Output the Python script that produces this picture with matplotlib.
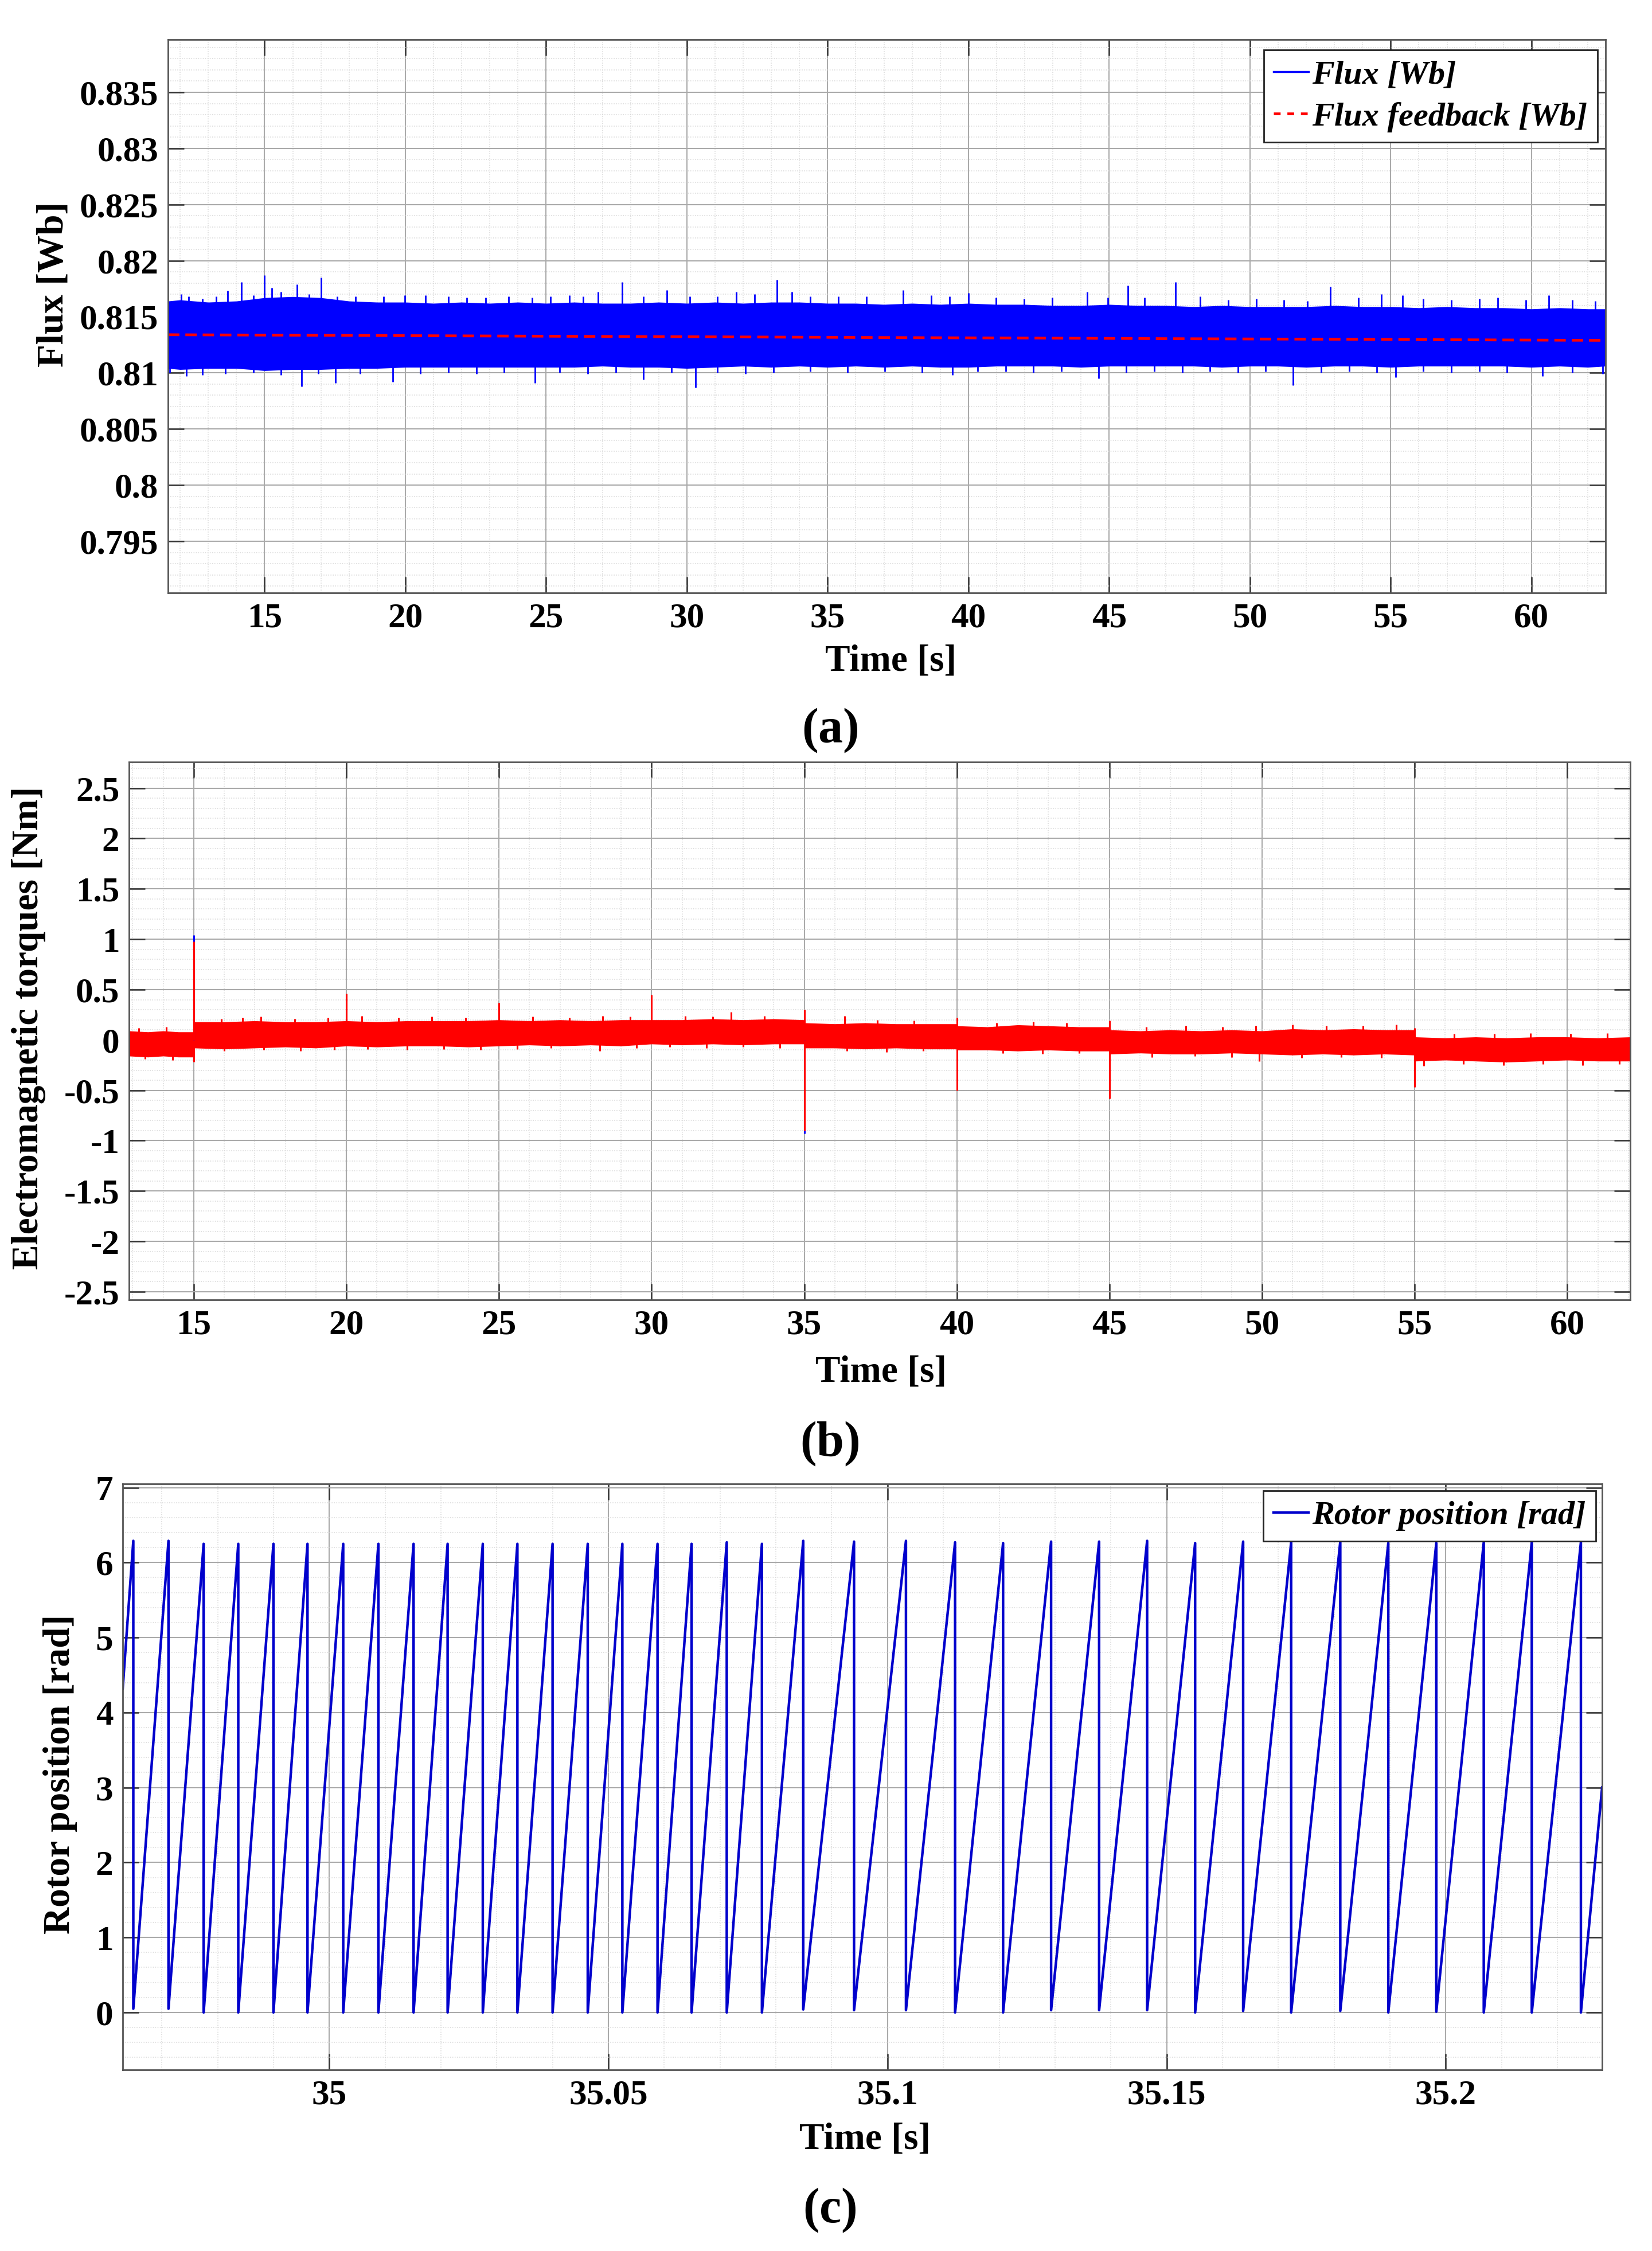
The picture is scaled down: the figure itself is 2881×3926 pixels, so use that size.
import numpy as np
import matplotlib.pyplot as plt
from matplotlib.ticker import MultipleLocator, AutoMinorLocator, FuncFormatter
from matplotlib.lines import Line2D

plt.rcParams['font.family'] = ['Liberation Serif', 'DejaVu Serif']
plt.rcParams['font.weight'] = 'bold'
plt.rcParams['axes.labelweight'] = 'bold'
plt.rcParams['mathtext.fontset'] = 'custom'
plt.rcParams['mathtext.rm'] = 'Liberation Serif'
plt.rcParams['mathtext.bf'] = 'Liberation Serif:bold'

# ---------------- (a) flux ----------------
# dense part of the noisy band (upper / lower edge), read every second
flux_t = [11.57, 12, 13, 14, 15, 16, 17, 18, 19, 20, 21, 22, 23, 24, 25, 26, 27, 28, 29, 30,
          31, 32, 33, 34, 35, 36, 37, 38, 39, 40, 41, 42, 43, 44, 45, 46, 47, 48, 49, 50,
          51, 52, 53, 54, 55, 56, 57, 58, 59, 60, 61, 62, 62.63]
flux_hi = [0.8164, 0.8165, 0.8163, 0.8164, 0.8167, 0.8168, 0.8167, 0.8164, 0.8163, 0.8163,
           0.8162, 0.8163, 0.8162, 0.8163, 0.8162, 0.8163, 0.8162, 0.8162, 0.8163, 0.8162,
           0.8163, 0.8162, 0.8163, 0.8163, 0.8162, 0.8162, 0.8161, 0.8162, 0.8161, 0.8162,
           0.8161, 0.8161, 0.8160, 0.8160, 0.8161, 0.8160, 0.8160, 0.8159, 0.8160, 0.8159,
           0.8159, 0.8159, 0.8160, 0.8159, 0.8159, 0.8158, 0.8159, 0.8158, 0.8158, 0.8157,
           0.8158, 0.8157, 0.8157]
flux_lo = [0.8104, 0.8103, 0.8104, 0.8104, 0.8102, 0.8103, 0.8103, 0.8104, 0.8104, 0.8105,
           0.8105, 0.8105, 0.8105, 0.8105, 0.8105, 0.8105, 0.8106, 0.8105, 0.8105, 0.8104,
           0.8105, 0.8106, 0.8105, 0.8106, 0.8105, 0.8106, 0.8105, 0.8106, 0.8105, 0.8105,
           0.8106, 0.8106, 0.8106, 0.8105, 0.8106, 0.8106, 0.8106, 0.8106, 0.8105, 0.8106,
           0.8106, 0.8105, 0.8106, 0.8106, 0.8105, 0.8106, 0.8106, 0.8106, 0.8106, 0.8105,
           0.8106, 0.8105, 0.8106]
# tips of the spikes sticking out of the band
flux_up_t = [12.03, 12.30, 12.79, 13.29, 13.68, 14.18, 14.60, 15.00, 15.26, 15.59, 16.15,
             16.58, 17.01, 17.57, 18.23, 19.22, 19.98, 20.71, 21.53, 22.19, 22.85, 23.67,
             24.50, 25.16, 25.82, 26.31, 26.84, 27.70, 28.46, 29.28, 30.10, 31.09, 31.75,
             32.41, 33.20, 33.73, 34.39, 35.38, 36.37, 37.69, 38.68, 39.34, 40.00, 40.99,
             41.98, 42.97, 44.22, 44.95, 45.67, 46.26, 47.35, 48.24, 49.23, 50.22, 51.21,
             52.04, 52.86, 53.85, 54.67, 55.43, 56.16, 57.15, 58.14, 58.80, 59.79, 60.61,
             61.44, 62.26]
flux_up_v = [0.8170, 0.8168, 0.8166, 0.8168, 0.8173, 0.8181, 0.8169, 0.8187, 0.8176, 0.8172,
             0.8179, 0.8170, 0.8185, 0.8168, 0.8168, 0.8168, 0.8169, 0.8169, 0.8168, 0.8167,
             0.8167, 0.8168, 0.8167, 0.8168, 0.8169, 0.8168, 0.8172, 0.8181, 0.8168, 0.8174,
             0.8168, 0.8168, 0.8172, 0.8170, 0.8183, 0.8172, 0.8168, 0.8168, 0.8168, 0.8174,
             0.8169, 0.8168, 0.8171, 0.8167, 0.8166, 0.8167, 0.8172, 0.8167, 0.8178, 0.8167,
             0.8181, 0.8168, 0.8165, 0.8166, 0.8165, 0.8164, 0.8177, 0.8167, 0.8170, 0.8169,
             0.8166, 0.8165, 0.8166, 0.8167, 0.8165, 0.8169, 0.8165, 0.8164]
flux_dn_t = [11.64, 12.23, 12.79, 13.61, 14.60, 15.59, 16.32, 16.91, 17.51, 18.40, 19.55,
             20.54, 21.53, 22.52, 23.51, 24.60, 25.49, 26.48, 27.47, 28.46, 29.45, 30.30,
             31.09, 32.08, 33.07, 34.39, 35.71, 37.03, 38.35, 39.44, 40.33, 41.32, 42.31,
             43.30, 44.62, 45.61, 46.60, 47.59, 48.58, 49.57, 50.56, 51.54, 52.53, 53.52,
             54.51, 55.17, 56.16, 57.15, 58.14, 59.13, 60.38, 61.44, 62.52]
flux_dn_v = [0.8100, 0.8097, 0.8098, 0.8099, 0.8100, 0.8098, 0.8088, 0.8099, 0.8091, 0.8099,
             0.8092, 0.8099, 0.8100, 0.8099, 0.8100, 0.8091, 0.8100, 0.8099, 0.8100, 0.8094,
             0.8100, 0.8087, 0.8100, 0.8099, 0.8100, 0.8101, 0.8100, 0.8101, 0.8100, 0.8098,
             0.8101, 0.8101, 0.8100, 0.8101, 0.8095, 0.8100, 0.8101, 0.8100, 0.8101, 0.8100,
             0.8101, 0.8089, 0.8100, 0.8101, 0.8100, 0.8096, 0.8101, 0.8100, 0.8101, 0.8100,
             0.8097, 0.8100, 0.8099]
fb_t = [11.57, 62.63]
fb_v = [0.8134, 0.8129]

# ---------------- (b) torque ----------------
tq_t = [12.88, 13.5, 14.0, 14.5, 14.98, 15.02, 16, 17, 18, 19, 20, 21, 22, 23, 24, 25, 26, 27,
        28, 29, 30, 31, 32, 33, 34, 34.98, 35.02, 36, 37, 38, 39, 39.98, 40.02, 41, 42, 43,
        44, 44.98, 45.02, 46, 47, 48, 49, 50, 51, 52, 53, 54, 54.98, 55.02, 56, 57, 58, 59,
        60, 61, 62.06]
tq_hi = [0.09, 0.08, 0.09, 0.08, 0.08, 0.18, 0.18, 0.19, 0.18, 0.18, 0.19, 0.18, 0.19, 0.19,
         0.19, 0.20, 0.19, 0.20, 0.19, 0.20, 0.20, 0.20, 0.21, 0.20, 0.21, 0.20, 0.17, 0.16,
         0.17, 0.16, 0.16, 0.16, 0.14, 0.13, 0.15, 0.14, 0.13, 0.13, 0.10, 0.09, 0.10, 0.09,
         0.10, 0.09, 0.11, 0.10, 0.11, 0.10, 0.10, 0.03, 0.02, 0.03, 0.02, 0.03, 0.03, 0.02,
         0.03]
tq_lo = [-0.16, -0.17, -0.16, -0.17, -0.17, -0.08, -0.09, -0.08, -0.07, -0.08, -0.06, -0.07,
         -0.06, -0.06, -0.07, -0.06, -0.05, -0.06, -0.05, -0.06, -0.04, -0.05, -0.04, -0.05,
         -0.04, -0.04, -0.08, -0.08, -0.09, -0.08, -0.09, -0.09, -0.10, -0.10, -0.11, -0.10,
         -0.11, -0.11, -0.14, -0.13, -0.14, -0.14, -0.13, -0.14, -0.15, -0.14, -0.15, -0.14,
         -0.15, -0.21, -0.20, -0.21, -0.22, -0.21, -0.20, -0.21, -0.21]
tq_up_t = [13.2, 14.1, 15.0, 15.9, 16.6, 17.2, 18.3, 19.4, 20.0, 20.5, 21.7, 22.8, 23.9, 25.0,
           26.1, 27.3, 28.4, 29.3, 30.0, 31.1, 32.0, 32.6, 33.7, 35.0, 36.33, 37.4, 38.6,
           40.0, 41.3, 42.5, 43.6, 45.0, 46.2, 47.5, 48.7, 49.8, 51.0, 52.1, 53.3, 54.4,
           55.0, 56.3, 57.6, 58.8, 60.1, 61.3]
tq_up_v = [0.12, 0.13, 0.98, 0.21, 0.22, 0.23, 0.21, 0.22, 0.46, 0.24, 0.22, 0.23, 0.22, 0.37,
           0.23, 0.22, 0.24, 0.23, 0.45, 0.24, 0.23, 0.28, 0.24, 0.30, 0.24, 0.20, 0.19,
           0.22, 0.17, 0.18, 0.17, 0.19, 0.13, 0.14, 0.13, 0.14, 0.15, 0.14, 0.14, 0.15,
           0.12, 0.06, 0.06, 0.07, 0.06, 0.07]
tq_dn_t = [13.4, 14.3, 15.0, 16.0, 17.3, 18.5, 19.6, 20.7, 22.0, 23.2, 24.4, 25.6, 26.7, 28.3,
           29.5, 30.6, 31.8, 33.0, 34.2, 35.0, 36.4, 37.7, 38.9, 40.0, 41.5, 42.8, 44.0,
           45.0, 46.4, 47.8, 49.0, 49.9, 51.3, 52.6, 53.9, 55.0, 55.3, 56.6, 57.9, 59.2,
           60.5, 61.7]
tq_dn_v = [-0.19, -0.20, -0.22, -0.11, -0.10, -0.11, -0.10, -0.09, -0.10, -0.09, -0.10, -0.09,
           -0.08, -0.11, -0.08, -0.07, -0.08, -0.07, -0.08, -0.90, -0.11, -0.12, -0.11,
           -0.50, -0.13, -0.14, -0.13, -0.58, -0.17, -0.16, -0.17, -0.21, -0.18, -0.17,
           -0.18, -0.47, -0.26, -0.24, -0.25, -0.24, -0.25, -0.24]
tq_ref_t = [15.0, 35.0]
tq_ref_v = [1.04, -0.93]

# ---------------- (c) rotor position ----------------
rot_wrap_t = [34.9649, 34.9712, 34.9775, 34.9837, 34.9900, 34.9961, 35.0025, 35.0088, 35.0151,
              35.0212, 35.0275, 35.0337, 35.0400, 35.0463, 35.0525, 35.0588, 35.0649, 35.0712,
              35.0775, 35.0849, 35.0940, 35.1033, 35.1121, 35.1207, 35.1293, 35.1379, 35.1465,
              35.1551, 35.1637, 35.1723, 35.1811, 35.1897, 35.1983, 35.2068, 35.2154, 35.2242]
rot_peak = [6.29, 6.29, 6.25, 6.25, 6.25, 6.25, 6.25, 6.25, 6.25, 6.25, 6.25, 6.25, 6.25, 6.25,
            6.25, 6.25, 6.25, 6.27, 6.25, 6.29, 6.28, 6.29, 6.27, 6.26, 6.28, 6.28, 6.29, 6.26,
            6.28, 6.27, 6.28, 6.26, 6.26, 6.27, 6.27, 6.27]
rot_trough = [0.05, 0.05, 0.0, 0.0, 0.0, 0.0, 0.0, 0.0, 0.0, 0.0, 0.0, 0.0, 0.0, 0.0, 0.0, 0.0,
              0.0, 0.0, 0.0, 0.04, 0.03, 0.03, 0.0, 0.0, 0.03, 0.03, 0.03, 0.0, 0.02, 0.0, 0.02,
              0.0, 0.01, 0.0, 0.0, 0.0]
rot_start = (34.963, 4.32)
rot_end = (35.228, 3.0)

W, H = 2881, 3926
fig = plt.figure(figsize=(W / 100, H / 100), dpi=100)


def box(l, t, r, b):
    return [l / W, 1 - b / H, (r - l) / W, (b - t) / H]


def fx(x):
    return x / W


def fy(y):
    return 1 - y / H


fmt = FuncFormatter(lambda v, p: '%g' % round(v, 6))
LEGFONT = {'family': 'Liberation Serif', 'style': 'italic', 'weight': 'bold', 'size': 42}


def style(ax, xmaj, ymaj):
    ax.xaxis.set_major_locator(MultipleLocator(xmaj))
    ax.yaxis.set_major_locator(MultipleLocator(ymaj))
    ax.xaxis.set_minor_locator(AutoMinorLocator(5))
    ax.yaxis.set_minor_locator(AutoMinorLocator(5))
    ax.xaxis.set_major_formatter(fmt)
    ax.yaxis.set_major_formatter(fmt)
    ax.grid(which='major', color='#aaaaaa', lw=1.5)
    ax.grid(which='minor', color='#d6d6d6', lw=1.1, ls=':')
    ax.set_axisbelow(True)
    ax.tick_params(which='major', direction='in', length=20, width=1.8, color='#333333',
                   top=True, right=True, labelsize=44, pad=12)
    ax.tick_params(which='minor', length=0)
    for s in ax.spines.values():
        s.set_color('#555555')
        s.set_linewidth(2)


def labels(ax, xl, xpos, yl, ypos):
    ax.set_xlabel(xl, fontsize=47)
    ax.xaxis.set_label_coords(fx(xpos[0]), fy(xpos[1]), transform=fig.transFigure)
    ax.xaxis.label.set_va('center')
    ax.set_ylabel(yl, fontsize=47)
    ax.yaxis.set_label_coords(fx(ypos[0]), fy(ypos[1]), transform=fig.transFigure)
    ax.yaxis.label.set_va('center')


# (a)
ax1 = fig.add_axes(box(293, 69, 2800, 1034))
ax1.fill_between(flux_t, flux_lo, flux_hi, color='#0000ff', lw=0)
ax1.vlines(flux_up_t, fb_v[0], flux_up_v, color='#0000ff', lw=2)
ax1.vlines(flux_dn_t, fb_v[0], flux_dn_v, color='#0000ff', lw=2)
ax1.plot(fb_t, fb_v, color='#ff0000', lw=3.4, dashes=(4.2, 2.2))
ax1.set_xlim(11.57, 62.63)
ax1.set_ylim(0.7904, 0.8397)
style(ax1, 5, 0.005)
labels(ax1, 'Time [s]', (1554, 1154), 'Flux [Wb]', (93, 496))
h1 = [Line2D([], [], color='#0000ff', lw=2.5),
      Line2D([], [], color='#ff0000', lw=3.4, dashes=(2.5, 2.5))]
leg = ax1.legend(h1, ['Flux [Wb]', 'Flux feedback [Wb]'], loc='upper right',
                 bbox_to_anchor=(fx(2786), fy(87)), bbox_transform=fig.transFigure,
                 prop=LEGFONT, fancybox=False, framealpha=1, edgecolor='#222222',
                 borderaxespad=0, handlelength=1.05, handletextpad=0.1, borderpad=0.3,
                 labelspacing=0.35)
leg.get_frame().set_linewidth(2)

# (b)
ax2 = fig.add_axes(box(225, 1329, 2843, 2267))
ax2.vlines(tq_ref_t, 0, tq_ref_v, color='#0000ff', lw=2.2)
ax2.fill_between(tq_t, tq_lo, tq_hi, color='#ff0000', lw=0)
ax2.vlines(tq_up_t, 0, tq_up_v, color='#ff0000', lw=2.2)
ax2.vlines(tq_dn_t, 0, tq_dn_v, color='#ff0000', lw=2.2)
ax2.set_xlim(12.88, 62.06)
ax2.set_ylim(-2.58, 2.76)
style(ax2, 5, 0.5)
labels(ax2, 'Time [s]', (1537, 2393), 'Electromagnetic torques [Nm]', (50, 1793))

# (c)
rx = [rot_start[0]]
ry = [rot_start[1]]
for t, p, tr in zip(rot_wrap_t, rot_peak, rot_trough):
    rx += [t, t]
    ry += [p, tr]
rx.append(rot_end[0])
ry.append(rot_end[1])

ax3 = fig.add_axes(box(214, 2588, 2794, 3610))
ax3.plot(rx, ry, color='#0000cc', lw=3.2, label='Rotor position [rad]')
ax3.set_xlim(34.963, 35.228)
ax3.set_ylim(-0.765, 7.05)
style(ax3, 0.05, 1)
labels(ax3, 'Time [s]', (1509, 3732), 'Rotor position [rad]', (105, 3094))
leg3 = ax3.legend(loc='upper right', bbox_to_anchor=(fx(2783), fy(2600)),
                  bbox_transform=fig.transFigure, prop=LEGFONT, fancybox=False,
                  framealpha=1, edgecolor='#222222', borderaxespad=0, handlelength=1.05,
                  handletextpad=0.1, borderpad=0.3)
leg3.get_frame().set_linewidth(2)

for lab, y in [('a', 1274), ('b', 2518), ('c', 3855)]:
    fig.text(fx(1447), fy(y), r'$(\mathbf{%s})$' % lab, fontsize=62, ha='center', va='center')

fig.savefig('out.png', dpi=100)
